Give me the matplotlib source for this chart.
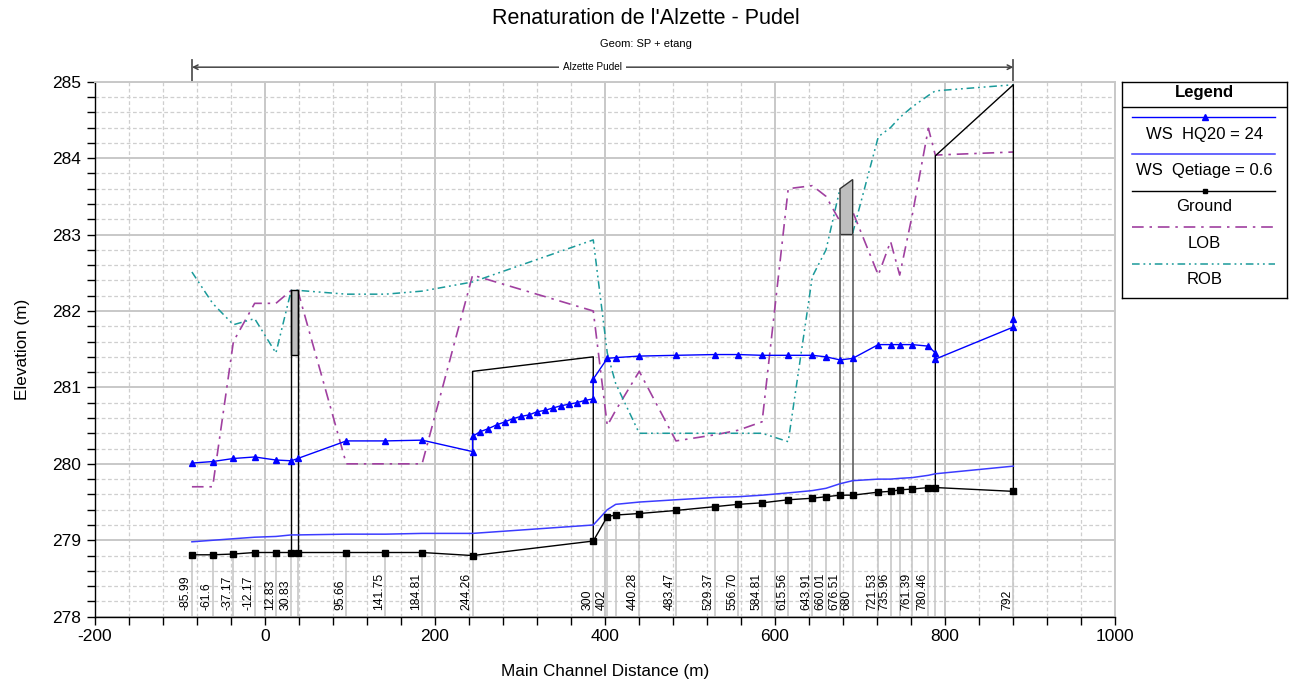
import matplotlib
matplotlib.use('Agg')
import matplotlib.pyplot as plt
from matplotlib.ticker import MultipleLocator
from matplotlib.transforms import offset_copy
from matplotlib.patches import Polygon

plt.rcParams['font.family'] = ['Liberation Sans', 'DejaVu Sans']
plt.rcParams['axes.unicode_minus'] = False

# ---------------- data ----------------
station_dist = [-85.99, -61.6, -37.17, -12.17, 12.83, 30.83, 38.5, 95.66, 141.75, 184.81,
                244.26, 386.2, 402.7, 412.6, 440.28, 483.47, 529.37, 556.70, 584.81, 615.56,
                643.91, 660.01, 676.51, 691.4, 721.53, 735.96, 746.7, 761.39, 780.46, 788.6, 880.4]
station_labels = ['-85.99', '-61.6', '-37.17', '-12.17', '12.83', '30.83', '', '95.66', '141.75', '184.81',
                  '244.26', '300', '402', '', '440.28', '483.47', '529.37', '556.70', '584.81', '615.56',
                  '643.91', '660.01', '676.51', '680', '721.53', '735.96', '', '761.39', '780.46', '', '792']
ground = [278.81, 278.81, 278.82, 278.84, 278.84, 278.84, 278.84, 278.84, 278.84, 278.84,
          278.80, 278.99, 279.31, 279.33, 279.35, 279.39, 279.44, 279.47, 279.49, 279.53,
          279.55, 279.57, 279.59, 279.59, 279.63, 279.64, 279.66, 279.67, 279.69, 279.69, 279.64]
ws_qetiage = [278.98, 279.00, 279.02, 279.04, 279.05, 279.07, 279.07, 279.08, 279.08, 279.09,
              279.09, 279.20, 279.40, 279.47, 279.50, 279.53, 279.56, 279.57, 279.59, 279.62,
              279.65, 279.68, 279.74, 279.78, 279.80, 279.80, 279.81, 279.82, 279.85, 279.87, 279.97]

hq20_dist = [-85.99, -61.6, -37.17, -12.17, 12.83, 30.83, 38.5, 95.66, 141.75, 184.81,
             244.26, 244.26, 252.9, 262.7, 272.5, 282.4, 291.4, 300.8, 310.6, 319.6, 329.4,
             338.4, 348.2, 357.6, 366.6, 376.5, 386.2, 386.2, 402.7, 412.6, 440.28, 483.47,
             529.37, 556.70, 584.81, 615.56, 643.91, 660.01, 676.51, 691.4, 721.53, 735.96,
             746.7, 761.39, 780.46, 788.6, 788.6, 880.4, 880.4]
hq20_elev = [280.01, 280.03, 280.07, 280.09, 280.05, 280.04, 280.07, 280.30, 280.30, 280.31,
             280.16, 280.36, 280.42, 280.46, 280.51, 280.55, 280.59, 280.62, 280.64, 280.68, 280.70,
             280.73, 280.76, 280.78, 280.80, 280.83, 280.85, 281.11, 281.38, 281.39, 281.41, 281.42,
             281.43, 281.43, 281.42, 281.42, 281.42, 281.40, 281.36, 281.38, 281.56, 281.56,
             281.56, 281.56, 281.54, 281.45, 281.37, 281.79, 281.90]

lob_dist = [-85.99, -61.6, -37.17, -12.17, 12.83, 30.83, 38.5, 95.66, 141.75, 184.81,
            244.26, 386.2, 402.7, 412.6, 440.28, 483.47, 529.37, 556.70, 584.81, 615.56,
            643.91, 660.01, 676.51, 684.0, 691.4, 721.53, 735.96, 746.7, 761.39, 780.46, 788.6, 880.4]
lob_elev = [279.70, 279.70, 281.60, 282.10, 282.10, 282.27, 282.27, 280.00, 280.00, 280.00,
            282.47, 282.00, 280.50, 280.70, 281.21, 280.30, 280.38, 280.44, 280.55, 283.60,
            283.64, 283.50, 283.17, 283.45, 283.30, 282.47, 282.91, 282.47, 283.25, 284.39, 284.04, 284.08]

rob_dist = [-85.99, -61.6, -37.17, -12.17, 12.83, 30.83, 38.5, 95.66, 141.75, 184.81,
            244.26, 386.2, 402.7, 412.6, 440.28, 483.47, 529.37, 556.70, 584.81, 615.56,
            643.91, 660.01, 676.51, 691.4, 721.53, 735.96, 746.7, 761.39, 780.46, 788.6, 880.4]
rob_elev = [282.51, 282.10, 281.82, 281.90, 281.45, 282.27, 282.27, 282.22, 282.22, 282.26,
            282.38, 282.93, 281.45, 281.05, 280.40, 280.40, 280.40, 280.40, 280.40, 280.29,
            282.45, 282.80, 283.60, 283.02, 284.28, 284.40, 284.53, 284.67, 284.82, 284.88, 284.96]

# structures
culvert_x = [30.83, 38.5]
culvert_deck = [281.42, 282.27]
box_x = [244.26, 386.2]
box_top = [281.21, 281.40]
bridge_x = [676.51, 691.4]
bridge_low = 283.00
bridge_top = [283.60, 283.72]
weir_x = [788.6, 880.4]
weir_top = [284.03, 284.96]
reach_x = [-85.99, 880.4]
reach_name = 'Alzette Pudel'

# ---------------- figure ----------------
W, H = 1291, 684
fig = plt.figure(figsize=(W / 100, H / 100), dpi=100)
ax = fig.add_axes([95 / W, 1 - 616.7 / H, (1115 - 95) / W, (616.7 - 81.7) / H])
ax.set_xlim(-200, 1000)
ax.set_ylim(278, 285)

gridc = '#c8c8c8'
ax.xaxis.set_major_locator(MultipleLocator(200))
ax.xaxis.set_minor_locator(MultipleLocator(40))
ax.yaxis.set_major_locator(MultipleLocator(1))
ax.yaxis.set_minor_locator(MultipleLocator(0.2))
ax.grid(which='major', color=gridc, lw=1.4, ls='-')
ax.grid(which='minor', color='#cfcfcf', lw=0.9, ls=(0, (3, 2)))
ax.set_axisbelow(True)
for s in ['top', 'right']:
    ax.spines[s].set_color(gridc)
    ax.spines[s].set_linewidth(1.4)
for s in ['left', 'bottom']:
    ax.spines[s].set_color('black')
    ax.spines[s].set_linewidth(1.0)
ax.tick_params(which='both', direction='out', length=6, width=1, color='black')
ax.tick_params(which='major', labelsize=12.5, pad=3)
ax.tick_params(axis='y', which='major', pad=4)

ax.set_xlabel('Main Channel Distance (m)', fontsize=12.3, labelpad=14)
ax.set_ylabel('Elevation (m)', fontsize=12.3, labelpad=16)

fig.text(0.5, 1 - 18 / H, "Renaturation de l'Alzette - Pudel", ha='center', va='center', fontsize=15.5)
fig.text(0.5, 1 - 44 / H, 'Geom: SP + etang', ha='center', va='center', fontsize=8)

# station vertical lines and labels
ground_at = dict(zip(station_dist, ground))
lab_tr = offset_copy(ax.transData, fig=fig, x=-6, y=0, units='dots')
for d, g, lab in zip(station_dist, ground, station_labels):
    ax.plot([d, d], [278, g], color='#c8c8c8', lw=1.2, zorder=1.5)
    if lab:
        ax.text(d, 278.09, lab, rotation=90, ha='center', va='bottom', fontsize=8.8,
                transform=lab_tr, zorder=2)

# bank lines
ax.plot(lob_dist, lob_elev, color='#a040a0', lw=1.2, ls=(0, (7, 3.5, 1.5, 3.5)), zorder=3)
ax.plot(rob_dist, rob_elev, color='#1a9a9a', lw=1.1, ls=(0, (5, 2.5, 1.2, 2.5, 1.2, 2.5)), zorder=3)

# structures
# culvert
ax.add_patch(Polygon([(culvert_x[0], culvert_deck[0]), (culvert_x[0], culvert_deck[1]),
                      (culvert_x[1], culvert_deck[1]), (culvert_x[1], culvert_deck[0])],
                     closed=True, fc='#bebebe', ec='black', lw=1, zorder=4))
for x in culvert_x:
    ax.plot([x, x], [ground_at[x], culvert_deck[1]], color='black', lw=1, zorder=4)
# pond box
ax.plot([box_x[0], box_x[0], box_x[1], box_x[1]],
        [ground_at[box_x[0]], box_top[0], box_top[1], ground_at[box_x[1]]], color='black', lw=1, zorder=4)
# bridge
ax.add_patch(Polygon([(bridge_x[0], bridge_low), (bridge_x[0], bridge_top[0]),
                      (bridge_x[1], bridge_top[1]), (bridge_x[1], bridge_low)],
                     closed=True, fc='#bebebe', ec='#333333', lw=1, zorder=4))
for x in bridge_x:
    ax.plot([x, x], [ground_at[x], bridge_low], color='#606060', lw=1.2, zorder=4)
# weir
ax.plot([weir_x[0], weir_x[0], weir_x[1], weir_x[1]],
        [ground_at[weir_x[0]], weir_top[0], weir_top[1], ground_at[weir_x[1]]], color='black', lw=1, zorder=4)

# water surfaces and ground
ax.plot(station_dist, ws_qetiage, color='#3c3cff', lw=1.1, zorder=5)
ax.plot(station_dist, ground, color='black', lw=1.0, marker='s', ms=4.5, zorder=6)
ax.plot(hq20_dist, hq20_elev, color='#0000ff', lw=1.0, marker='^', ms=5, zorder=7)

# reach bracket
yb = 285.19
ax.annotate('', xy=(reach_x[0], yb), xytext=(reach_x[1], yb),
            arrowprops=dict(arrowstyle='<->', color='#444444', lw=1.1, shrinkA=0, shrinkB=0,
                            mutation_scale=8),
            annotation_clip=False)
for x in reach_x:
    ax.plot([x, x], [285, 285.28], color='#555555', lw=1.3, clip_on=False)
ax.text(385, yb, reach_name, ha='center', va='center', fontsize=7.2,
        bbox=dict(fc='white', ec='none', pad=3))

# ---------------- legend ----------------
lx0, lx1, ly0, ly1 = 1122, 1287, 82, 298
lax = fig.add_axes([lx0 / W, 1 - ly1 / H, (lx1 - lx0) / W, (ly1 - ly0) / H])
lax.set_xlim(lx0, lx1)
lax.set_ylim(ly1, ly0)
lax.set_xticks([])
lax.set_yticks([])
for s in lax.spines.values():
    s.set_color('black')
    s.set_linewidth(1)
xc = (lx0 + lx1) / 2
lax.text(xc, 92, 'Legend', ha='center', va='center', fontsize=12, fontweight='bold')
lax.plot([lx0, lx1], [106.7, 106.7], color='black', lw=1)
entries = [
    ('WS  HQ20 = 24', dict(color='#0000ff', lw=1.0, marker='^', ms=4)),
    ('WS  Qetiage = 0.6', dict(color='#3c3cff', lw=1.1)),
    ('Ground', dict(color='black', lw=1.0, marker='s', ms=3.5)),
    ('LOB', dict(color='#a040a0', lw=1.2, ls=(0, (7, 3.5, 1.5, 3.5)))),
    ('ROB', dict(color='#1a9a9a', lw=1.1, ls=(0, (5, 2.5, 1.2, 2.5, 1.2, 2.5)))),
]
line_y = [117.3, 154.3, 190.7, 226.7, 264.3]
text_y = [134.3, 171.0, 206.7, 243.3, 279.3]
for (lab, st), yl, yt in zip(entries, line_y, text_y):
    lax.plot([1132, 1275], [yl, yl], **{k: v for k, v in st.items() if k not in ('marker', 'ms')})
    if 'marker' in st:
        lax.plot([xc], [yl], marker=st['marker'], ms=st['ms'], color=st['color'], ls='none')
    lax.text(xc, yt, lab, ha='center', va='center', fontsize=12)

fig.savefig('out.png', dpi=100)
